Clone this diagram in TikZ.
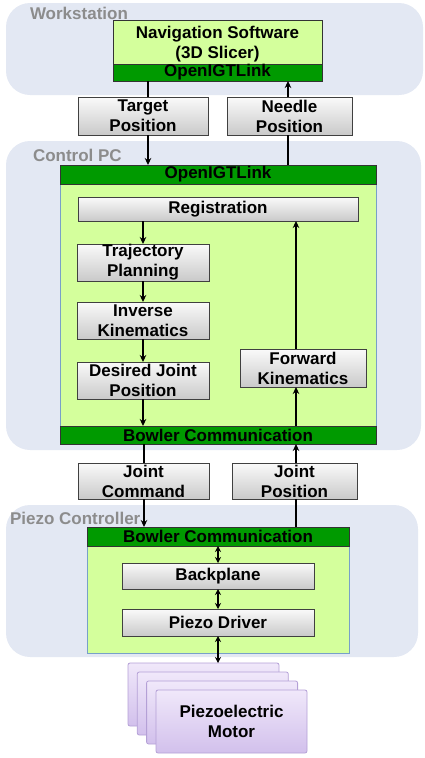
\documentclass[tikz,border=0pt]{standalone}
\usepackage{fontspec}
\setmainfont{Liberation Sans}
\usetikzlibrary{arrows.meta,shadows}
\definecolor{panelc}{RGB}{227,232,243}
\definecolor{lgreen}{RGB}{212,255,156}
\definecolor{dgreen}{RGB}{0,154,0}
\definecolor{labgray}{RGB}{140,140,140}
\definecolor{purtop}{RGB}{240,232,250}
\definecolor{purbot}{RGB}{210,192,236}
\definecolor{purline}{RGB}{180,160,214}
\definecolor{gbord}{RGB}{120,160,200}
\tikzset{
  every node/.style={inner sep=0pt,outer sep=0pt,font=\fontsize{17}{20}\selectfont\bfseries},
  panel/.style={fill=panelc,rounded corners=24pt},
  plabel/.style={text=labgray,anchor=west},
  body/.style={fill=lgreen,draw=gbord,line width=0.6pt,anchor=north west},
  navbody/.style={fill=lgreen,draw=black!80,line width=1pt,anchor=north west,align=center},
  bar/.style={fill=dgreen,draw=black!80,line width=1pt,anchor=north west},
  gbox/.style={top color=gray!4,bottom color=gray!42,draw=black!75,line width=0.8pt,anchor=north west,align=center,
    drop shadow={opacity=0.25,shadow xshift=1pt,shadow yshift=-1pt}},
  card/.style={top color=purtop,bottom color=purbot,draw=purline,line width=0.8pt,rounded corners=2pt,anchor=north west,align=center,minimum width=151pt,minimum height=63pt},
  conn/.style={line width=1.3pt},
  arr/.style={conn,-{Stealth[length=7pt,width=6.5pt]}},
  darr/.style={conn,{Stealth[length=6pt,width=6pt]}-{Stealth[length=6pt,width=6pt]}}
}
\begin{document}
\begin{tikzpicture}[x=1pt,y=-1pt]
\useasboundingbox (0,0) rectangle (425,758);
% panels
\fill[panel] (6,3) rectangle (423,95);
\fill[panel] (6,141) rectangle (421,450);
\fill[panel] (6,505) rectangle (418,657);
\node[plabel] (lws) at (30,13) {Workstation};
\node[plabel] (lpc) at (33,155) {Control PC};
\node[plabel] (lpz) at (10,518) {Piezo Controller};
% workstation
\node[navbody,minimum width=209pt,minimum height=61pt] (nav) at (113,20) {};
\node[align=center] (navtxt) at (217.5,44) {Navigation Software\\(3D Slicer)};
\node[bar,minimum width=209pt,minimum height=17pt] (navbar) at (113,64) {OpenIGTLink};
\node[gbox,minimum width=130pt,minimum height=38pt] (target) at (78,97) {Target\\Position};
\node[gbox,minimum width=125pt,minimum height=38pt] (needle) at (227,97) {Needle\\Position};
% control PC
\node[body,minimum width=316pt,minimum height=279pt] (pcbody) at (60,165) {};
\node[bar,minimum width=316pt,minimum height=19pt] (pctop) at (60,165) {OpenIGTLink};
\node[bar,minimum width=316pt,minimum height=18pt] (pcbot) at (60,426) {Bowler Communication};
\node[gbox,minimum width=280pt,minimum height=24pt] (reg) at (78,197) {Registration};
\node[gbox,minimum width=132pt,minimum height=37pt] (traj) at (77,244) {Trajectory\\Planning};
\node[gbox,minimum width=132pt,minimum height=37pt] (ik) at (77,302) {Inverse\\Kinematics};
\node[gbox,minimum width=132pt,minimum height=37pt] (djp) at (77,362) {Desired Joint\\Position};
\node[gbox,minimum width=126pt,minimum height=38pt] (fk) at (240,349) {Forward\\Kinematics};
\node[gbox,minimum width=131pt,minimum height=36pt] (jc) at (78,463) {Joint\\Command};
\node[gbox,minimum width=125pt,minimum height=36pt] (jp) at (232,463) {Joint\\Position};
% piezo controller
\node[body,minimum width=262pt,minimum height=126pt] (pzbody) at (87,527) {};
\node[bar,minimum width=262pt,minimum height=19pt] (pztop) at (87,527) {Bowler Communication};
\node[gbox,minimum width=192pt,minimum height=26pt] (bp) at (122,563) {Backplane};
\node[gbox,minimum width=192pt,minimum height=27pt] (pd) at (122,609) {Piezo Driver};
% motors
\node[card] (m1) at (128,663) {};
\node[card] (m2) at (137.3,672) {};
\node[card] (m3) at (146.6,681) {};
\node[card] (m4) at (156,690) {Piezoelectric\\Motor};
% column coordinates
\coordinate (cl1) at (148,0);
\coordinate (cr1) at (288,0);
\coordinate (cl2) at (143,0);
\coordinate (cr2) at (296,0);
\coordinate (cl3) at (144,0);
\coordinate (cm) at (218,0);
% connectors
\draw[conn] (navbar.south -| cl1) -- (target.north -| cl1);
\draw[arr] (target.south -| cl1) -- (pctop.north -| cl1);
\draw[arr] (needle.north -| cr1) -- (navbar.south -| cr1);
\draw[conn] (pctop.north -| cr1) -- (needle.south -| cr1);
\draw[arr] (reg.south -| cl2) -- (traj.north -| cl2);
\draw[arr] (traj.south -| cl2) -- (ik.north -| cl2);
\draw[arr] (ik.south -| cl2) -- (djp.north -| cl2);
\draw[arr] (djp.south -| cl2) -- (pcbot.north -| cl2);
\draw[arr] (pcbot.north -| cr2) -- (fk.south -| cr2);
\draw[arr] (fk.north -| cr2) -- (reg.south -| cr2);
\draw[conn] (pcbot.south -| cl3) -- (jc.north -| cl3);
\draw[arr] (jc.south -| cl3) -- (pztop.north -| cl3);
\draw[arr] (jp.north -| cr2) -- (pcbot.south -| cr2);
\draw[conn] (pztop.north -| cr2) -- (jp.south -| cr2);
\draw[darr] (pztop.south -| cm) -- (bp.north -| cm);
\draw[darr] (bp.south -| cm) -- (pd.north -| cm);
\draw[darr] (pd.south -| cm) -- (m1.north -| cm);
\end{tikzpicture}
\end{document}
